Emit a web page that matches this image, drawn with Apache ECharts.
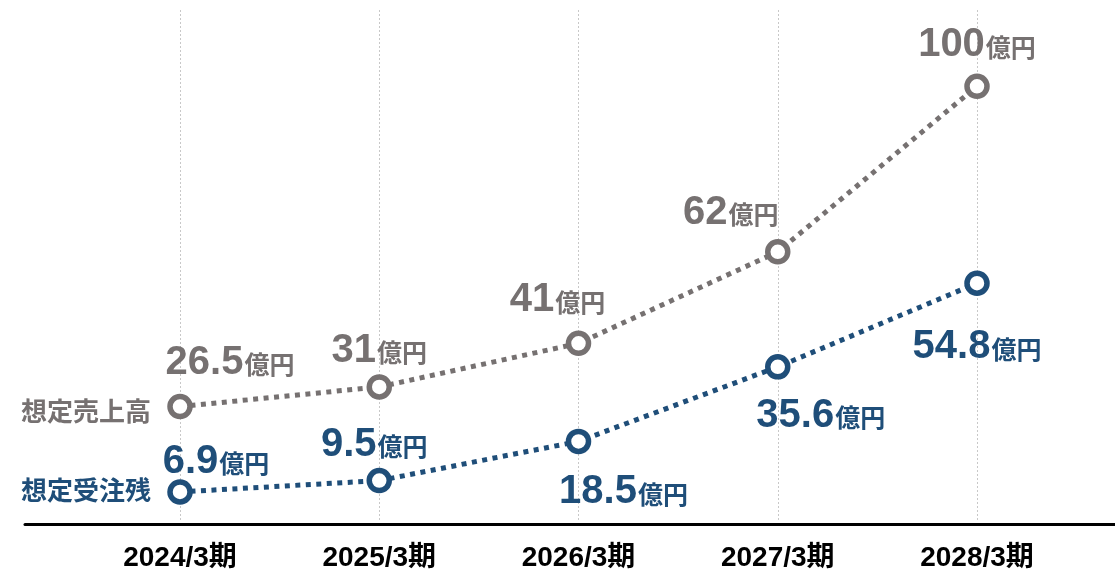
<!DOCTYPE html>
<html>
<head>
<meta charset="utf-8">
<script src="https://cdn.jsdelivr.net/npm/echarts@6/dist/echarts.min.js"></script>
<style>
html,body{margin:0;padding:0;background:#fff;}
#c{width:1115px;height:572px;}
</style>
</head>
<body>
<div id="c"></div>
<script>
const categories = ['2024/3期', '2025/3期', '2026/3期', '2027/3期', '2028/3期'];
const salesName = '想定売上高';
const salesValues = [26.5, 31, 41, 62, 100];
const backlogName = '想定受注残';
const backlogValues = [6.9, 9.5, 18.5, 35.6, 54.8];
const unit = '億円';

// layout only: label offsets (px) relative to each point
const salesLabelOffsets = [[50, -45], [0, -37], [-21, -44], [-47, -40], [0, -42]];
const backlogLabelOffsets = [[36, -31], [-5, -37], [45, 50], [43, 48], [0, 63]];

const GRAY = '#767171';
const BLUE = '#1f4e79';
const FONT = "'Liberation Sans', 'Noto Sans CJK JP', sans-serif";

function makeData(values, offsets) {
  return values.map((v, i) => ({
    value: v,
    label: { offset: offsets[i] }
  }));
}

function makeSeries(name, values, offsets, color) {
  return {
    name: name,
    type: 'line',
    xAxisIndex: 0,
    yAxisIndex: 0,
    data: makeData(values, offsets),
    symbol: 'circle',
    symbolSize: 20,
    showAllSymbol: true,
    itemStyle: { color: '#fff', borderColor: color, borderWidth: 5.5 },
    lineStyle: { color: color, width: 5, type: [5, 5.5], cap: 'butt' },
    label: {
      show: true,
      position: 'inside',
      align: 'center',
      verticalAlign: 'middle',
      formatter: p => '{n|' + p.value + '}{u|' + unit + '}',
      rich: {
        n: { fontFamily: FONT, fontWeight: 'bold', fontSize: 40, color: color, verticalAlign: 'bottom', lineHeight: 42 },
        u: { fontFamily: FONT, fontWeight: 'bold', fontSize: 25, color: color, verticalAlign: 'bottom', lineHeight: 42, padding: [0, 0, 3, 1] }
      }
    },
    emphasis: { disabled: true },
    animation: false,
    z: 3
  };
}

const chart = echarts.init(document.getElementById('c'));
chart.setOption({
  backgroundColor: '#fff',
  animation: false,
  grid: [
    { left: 180, right: 138, top: 10, bottom: 48 },
    { left: 25, right: 0, top: 10, bottom: 48 }
  ],
  xAxis: [
    {
      type: 'category',
      gridIndex: 0,
      data: categories,
      boundaryGap: false,
      axisLine: { show: false },
      axisTick: { show: false },
      axisLabel: {
        fontFamily: FONT, fontWeight: 'bold', fontSize: 28, color: '#000', margin: 22
      },
      splitLine: { show: true, lineStyle: { color: '#c8c8c8', width: 1, type: [2, 2] } }
    },
    {
      type: 'value',
      gridIndex: 1,
      min: 0, max: 1,
      axisLine: { show: true, lineStyle: { color: '#000', width: 3 } },
      axisTick: { show: false },
      axisLabel: { show: false },
      splitLine: { show: false }
    }
  ],
  yAxis: [
    { type: 'value', gridIndex: 0, min: 0, max: 117.5, show: false, splitLine: { show: false } },
    { type: 'value', gridIndex: 1, min: 0, max: 1, show: false }
  ],
  series: [
    makeSeries(salesName, salesValues, salesLabelOffsets, GRAY),
    makeSeries(backlogName, backlogValues, backlogLabelOffsets, BLUE)
  ],
  graphic: [
    {
      type: 'text', right: 1115 - 151, top: 401,
      style: { text: salesName, fontFamily: FONT, fontWeight: 'bold', fontSize: 26, fill: GRAY }
    },
    {
      type: 'text', right: 1115 - 151, top: 480,
      style: { text: backlogName, fontFamily: FONT, fontWeight: 'bold', fontSize: 26, fill: BLUE }
    }
  ]
});
</script>
</body>
</html>
